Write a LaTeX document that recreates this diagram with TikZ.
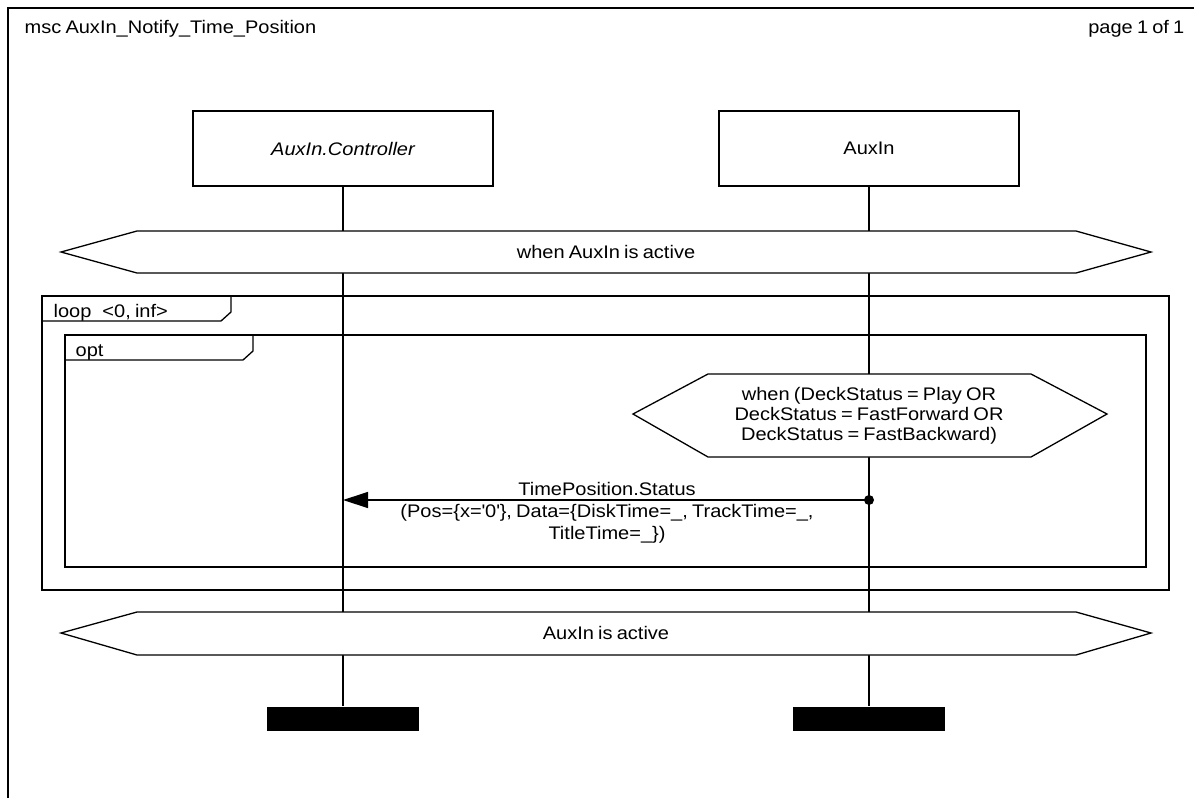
\documentclass[tikz,border=0pt]{standalone}
\usepackage{fontspec}
\setmainfont{Liberation Sans}[FakeStretch=1.1, WordSpace=0.75]
\usetikzlibrary{arrows.meta}
\begin{document}
\begin{tikzpicture}[x=1pt, y=-1pt, line width=1.3pt,
  every node/.style={font=\fontsize{18.2}{20}\selectfont, inner sep=0pt},
  inst/.style={draw, fill=white, minimum width=300pt, minimum height=75pt},
  endbar/.style={fill=black, minimum width=152pt, minimum height=24pt},
  cond/.style={draw, fill=white},
  msg/.style={-{Triangle[length=25pt, width=16pt]}},
  tagtext/.style={anchor=base west},
  ]
  \useasboundingbox (0,0) rectangle (1194,798);

  % diagram frame and heading
  \draw (8,798) -- (8,8) -- (1194,8);
  \node[anchor=base west] (title) at (24,33) {msc AuxIn\_Notify\_Time\_Position};
  \node[anchor=base east] (page) at (1185,33) {page 1 of 1};

  % instances, their ends and lifelines
  \node[inst] (ctrl) at (343,148.5) {\itshape AuxIn.Controller};
  \node[inst] (aux) at (869,148.5) {AuxIn};
  \node[endbar] (ctrlend) at (343,719) {};
  \node[endbar] (auxend) at (869,719) {};
  \draw (ctrl) -- (ctrlend);
  \draw (aux) -- (auxend);

  % global condition at the start
  \draw[cond] (61,252) -- (137,231) -- (1076,231) -- (1151,252) -- (1076,273) -- (137,273) -- cycle;
  \node (cond1) at (606,252) {when AuxIn is active};

  % loop inline expression
  \draw (42,296) rectangle (1169,590);
  \draw (42,321) -- (221,321) -- (231,312) -- (231,296);
  \node[tagtext] (looplbl) at (53,317) {loop\hspace{11pt}<0, inf>};

  % opt inline expression
  \draw (65,335) rectangle (1146,567);
  \draw (65,360) -- (243,360) -- (253,351) -- (253,335);
  \node[tagtext] (optlbl) at (75,356) {opt};

  % local condition on AuxIn
  \draw[cond] (633,414) -- (708,374) -- (1031,374) -- (1107,414) -- (1031,457) -- (708,457) -- cycle;
  \node[align=center] (cond2) at (869,416) {when (DeckStatus = Play OR\\DeckStatus = FastForward OR\\DeckStatus = FastBackward)};

  % status message
  \coordinate (auxsend) at (869,500);
  \coordinate (ctrlrecv) at (343,500);
  \draw[msg] (auxsend) -- (ctrlrecv);
  \fill (auxsend) circle (5pt);
  \node[anchor=base] (msgname) at (607,495) {TimePosition.Status};
  \node[align=center] (msgargs) at (607,524) {(Pos=\{x=\textquotesingle0\textquotesingle\}, Data=\{DiskTime=\_, TrackTime=\_,\\[2pt]TitleTime=\_\})};

  % global condition at the end
  \draw[cond] (61,633) -- (137,612) -- (1076,612) -- (1151,633) -- (1076,655) -- (137,655) -- cycle;
  \node (cond3) at (606,633) {AuxIn is active};
\end{tikzpicture}
\end{document}
